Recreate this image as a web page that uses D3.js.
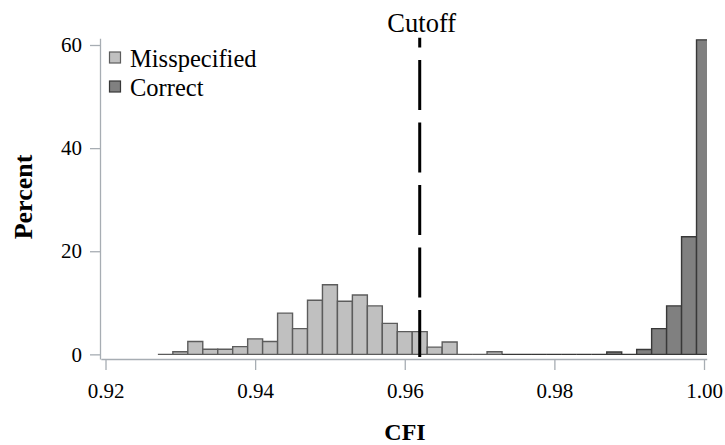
<!DOCTYPE html>
<html>
<head>
<meta charset="utf-8">
<script src="https://cdn.jsdelivr.net/npm/d3@7"></script>
<style>
  html, body { margin: 0; padding: 0; background: #fff; }
  svg { display: block; }
  text { font-family: "Liberation Serif", "Times New Roman", serif; fill: #000; }
</style>
</head>
<body>
<svg id="chart" width="725" height="445"></svg>
<script>
// Histogram bins (bin centres, width 0.002) and percent heights
const misspecifiedBins = [0.928, 0.930, 0.932, 0.934, 0.936, 0.938, 0.940, 0.942, 0.944, 0.946, 0.948, 0.950,
                          0.952, 0.954, 0.956, 0.958, 0.960, 0.962, 0.964, 0.966, 0.968, 0.970, 0.972];
const misspecifiedPct  = [0, 0.5, 2.5, 1.0, 1.0, 1.5, 3.0, 2.5, 8.0, 5.0, 10.5, 13.5,
                          10.3, 11.5, 9.4, 6.0, 4.4, 4.4, 1.4, 2.4, 0, 0, 0.5];
const correctBins = [0.974, 0.976, 0.978, 0.980, 0.982, 0.984, 0.986, 0.988, 0.990, 0.992, 0.994, 0.996, 0.998, 1.000];
const correctPct  = [0, 0, 0, 0, 0, 0, 0, 0.45, 0, 0.95, 5.0, 9.4, 22.8, 61.0];
const binWidth = 0.002;
const cutoff = 0.962;
const xTicks = [0.92, 0.94, 0.96, 0.98, 1.00];
const yTicks = [0, 20, 40, 60];
const seriesNames = ["Misspecified", "Correct"];
const seriesFill = ["#c0c0c0", "#808080"];
const seriesStroke = ["#5c5c5c", "#383838"];

const FONT = '"Liberation Serif", "Times New Roman", serif';
const svg = d3.select("#chart");
const axisColor = "#a7adb3";

const x = d3.scaleLinear().domain([0.91937, 1.00036]).range([100.8, 706.7]);
const y = d3.scaleLinear().domain([-0.9, 61.3]).range([359, 38.3]);

svg.append("defs").append("clipPath").attr("id", "plotclip")
  .append("rect").attr("x", 100).attr("y", 0).attr("width", 607).attr("height", 360);

const plot = svg.append("g").attr("clip-path", "url(#plotclip)");

const series = [
  { bins: misspecifiedBins, pct: misspecifiedPct },
  { bins: correctBins, pct: correctPct }
];

function barPath(d) {
  const x0 = x(d.c - binWidth / 2), x1 = x(d.c + binWidth / 2);
  const y0 = y(0), y1 = y(d.v);
  return `M${x0},${y0}V${y1}H${x1}V${y0}Z`;
}

series.forEach((s, i) => {
  const data = s.bins.map((b, j) => ({ c: b, v: s.pct[j] }));
  plot.append("g").selectAll("path").data(data).join("path")
    .attr("d", barPath)
    .attr("fill", seriesFill[i])
    .attr("stroke", seriesStroke[i])
    .attr("stroke-width", 1.4);
});

// axes
const xAxis = svg.append("g").attr("transform", "translate(0,359)")
  .call(d3.axisBottom(x).tickValues(xTicks).tickFormat(d3.format(".2f")).tickSize(11).tickSizeOuter(0).tickPadding(12));
const yAxis = svg.append("g").attr("transform", "translate(100,0)")
  .call(d3.axisLeft(y).tickValues(yTicks).tickSize(10).tickSizeOuter(0).tickPadding(8));

[xAxis, yAxis].forEach(a => {
  a.attr("font-family", FONT).attr("font-size", 21);
  a.selectAll("path, line").attr("stroke", axisColor).attr("stroke-width", 1.3);
  a.selectAll("text").style("font-family", FONT).style("font-size", "21px").attr("fill", "#000");
});
xAxis.selectAll("text").attr("dy", "0.71em").attr("y", 24);

// cutoff line
svg.append("line")
  .attr("x1", x(cutoff)).attr("x2", x(cutoff))
  .attr("y1", 357).attr("y2", 37.7)
  .attr("stroke", "#000").attr("stroke-width", 3)
  .attr("stroke-dasharray", "50,12.5").attr("stroke-dashoffset", 3);

svg.append("text").attr("x", x(cutoff) + 2).attr("y", 31.5)
  .attr("text-anchor", "middle").style("font-size", "26.5px").text("Cutoff");

// legend
const legend = svg.append("g");
seriesNames.forEach((name, i) => {
  legend.append("rect").attr("x", 109.5).attr("y", 52 + i * 29).attr("width", 11).attr("height", 11)
    .attr("fill", seriesFill[i]).attr("stroke", seriesStroke[i]).attr("stroke-width", 1.2);
  legend.append("text").attr("x", 130).attr("y", 66.7 + i * 29).style("font-size", "24.5px").text(name);
});

// axis titles
svg.append("text").attr("transform", "translate(32,197) rotate(-90)")
  .attr("text-anchor", "middle").style("font-size", "26px").style("font-weight", "bold").text("Percent");
svg.append("text").attr("x", 405).attr("y", 440)
  .attr("text-anchor", "middle").style("font-size", "24px").style("font-weight", "bold").text("CFI");
</script>
</body>
</html>
